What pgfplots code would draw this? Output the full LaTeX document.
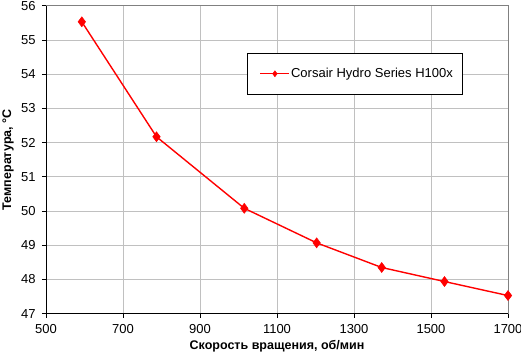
\documentclass[border=0pt]{standalone}
\usepackage{pgfplots}
\pgfplotsset{compat=1.18}
\usepackage{fontspec}
\setmainfont{Liberation Sans}
\definecolor{gridgray}{RGB}{192,192,192}
\definecolor{bordergray}{RGB}{128,128,128}
\begin{document}
\fontsize{12.5bp}{15bp}\selectfont
\begin{tikzpicture}
\useasboundingbox (-46bp,-41.3bp) rectangle (475bp,313.7bp);
\begin{axis}[
  at={(0,0)}, anchor=origin,
  scale only axis,
  width=462bp, height=308bp,
  xmin=500, xmax=1700, ymin=47, ymax=56,
  xtick={500,700,...,1700},
  ytick={47,48,...,56},
  /pgf/number format/assume math mode=true,
  /pgf/number format/1000 sep={},
  grid=major,
  major grid style={gridgray, line width=0.8bp},
  axis line style={line width=0.8bp},
  axis x line*=bottom, axis y line*=left,
  tick align=outside,
  major tick length=4bp,
  tick style={black, line width=0.8bp},
  ticklabel style={font=\fontsize{13bp}{15bp}\selectfont},
  xticklabel style={yshift=-2bp},
  yticklabel style={xshift=-2bp},
  xlabel={\bfseries Скорость вращения, об/мин},
  ylabel={\bfseries Температура, °C},
  xlabel style={at={(axis description cs:0.5,0)}, anchor=center, yshift=-33bp, font=\fontsize{12.5bp}{15bp}\selectfont},
  ylabel style={at={(axis description cs:0,0.5)}, anchor=center, yshift=38bp, font=\fontsize{12.5bp}{15bp}\selectfont},
  legend style={at={(rel axis cs:0.4357,0.8464)}, anchor=north west, draw=black, line width=0.8bp, fill=white,
    inner xsep=9.6bp, inner ysep=0bp, nodes={inner sep=0bp}, font=\fontsize{13bp}{15bp}\selectfont},
  legend image code/.code={\path[draw=none,fill=none] (-3.1bp,-20.35bp) rectangle (30.7bp,20.35bp);
    \draw[mark repeat=2,mark phase=2,#1,line width=1.4bp,mark size=3bp] plot coordinates {(0bp,0bp)(14.5bp,0bp)(29bp,0bp)};},
  clip=false,
]
\draw[bordergray, line width=0.8bp] (rel axis cs:0,1) -- (rel axis cs:1,1) -- (rel axis cs:1,0);
\addplot[red, line width=1.4bp, mark=diamond*, mark size=5bp, mark options={fill=red, draw=red, line width=0.5bp}]
coordinates {
(593,55.53) (787,52.17) (1015,50.08) (1203,49.07) (1372,48.35) (1535,47.94) (1700,47.53)
};
\addlegendentry{Corsair Hydro Series H100x}
\end{axis}
\end{tikzpicture}
\end{document}
